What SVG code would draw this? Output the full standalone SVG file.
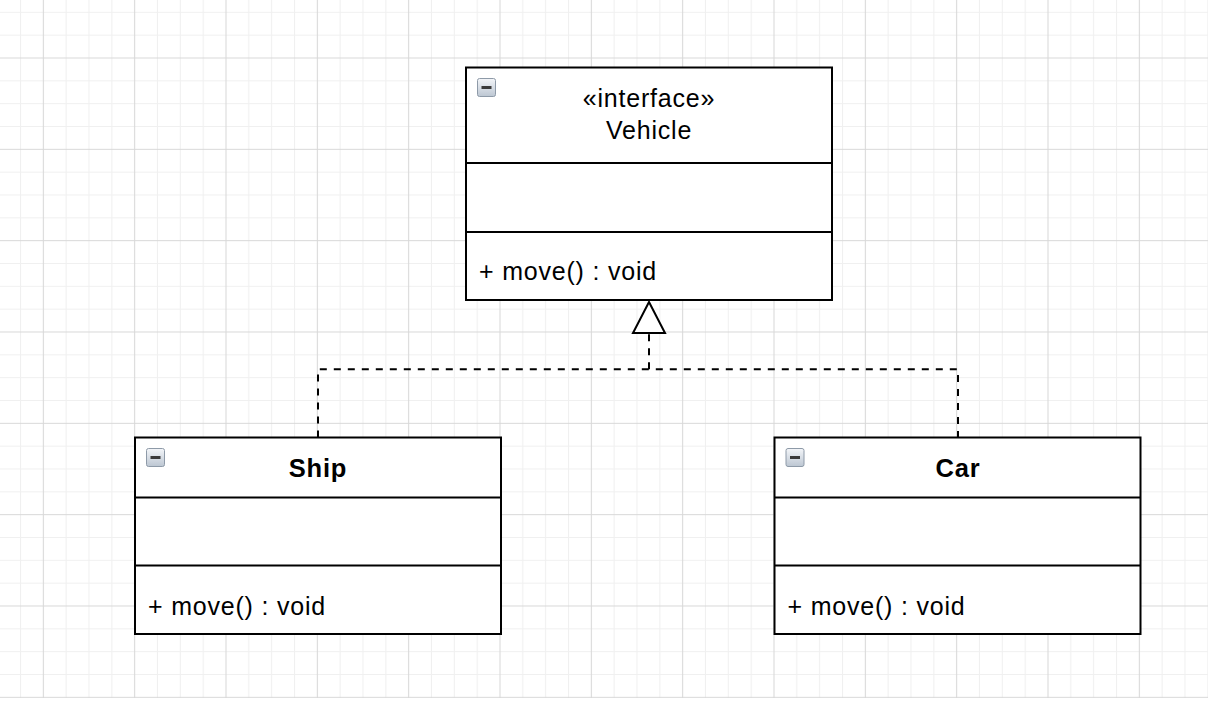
<svg xmlns="http://www.w3.org/2000/svg" width="1208" height="704" viewBox="0 0 1208 704">
<defs>
<style>
.box{fill:#ffffff;stroke:#000000;stroke-width:2}
.div{stroke:#000000;stroke-width:2;fill:none}
.t{font-family:"Liberation Sans",Arial,Helvetica,sans-serif;font-size:25px;fill:#000000;letter-spacing:0.8px}
.b{font-weight:bold;font-size:25.5px}
.c{text-anchor:middle}
.dash{fill:none;stroke:#000000;stroke-width:2;stroke-dasharray:7 7}
.tri{fill:#ffffff;stroke:#000000;stroke-width:2;stroke-linejoin:miter}
.ifr{stroke:#8e9aa8;stroke-width:1;fill:url(#ig)}
.ibar{fill:#3a3a3a}
</style>
<linearGradient id="ig" x1="0" y1="0" x2="0" y2="1">
<stop offset="0" stop-color="#f4f6f9"/>
<stop offset="1" stop-color="#bcc6d2"/>
</linearGradient>
<pattern id="grid" patternUnits="userSpaceOnUse" x="31.92" y="46.58" width="91.333" height="91.333">
<rect width="91.333" height="91.333" fill="#ffffff"/>
<path d="M34.25,0V91.333M57.08,0V91.333M79.92,0V91.333M0,34.25H91.333M0,57.08H91.333M0,79.92H91.333" stroke="#f0f0f0" stroke-width="1" fill="none"/>
<path d="M11.42,0V91.333M0,11.42H91.333" stroke="#d8d8d8" stroke-width="1" fill="none"/>
</pattern>
</defs>
<rect x="0" y="0" width="1208" height="704" fill="#ffffff"/>
<rect x="0" y="0" width="1208" height="698" fill="url(#grid)"/>

<g id="connectors">
<path class="dash" d="M318,437.5 V369.3 H958 V437.5"/>
<path class="dash" d="M649,369.3 V333"/>
<polygon class="tri" points="649,302 633,333 665,333"/>
</g>

<g id="vehicle">
<rect class="box" x="466" y="67.5" width="366" height="232.5"/>
<line class="div" x1="466" y1="163" x2="832" y2="163"/>
<line class="div" x1="466" y1="232" x2="832" y2="232"/>
<rect class="ifr" x="477.5" y="78.5" width="18" height="18" rx="2"/>
<rect class="ibar" x="481.5" y="86" width="10" height="3"/>
<text class="t c" x="649" y="106.5">«interface»</text>
<text class="t c" x="649" y="138.5">Vehicle</text>
<text class="t" x="479" y="279.5">+ move() : void</text>
</g>

<g id="ship">
<rect class="box" x="135" y="437.5" width="366" height="196.5"/>
<line class="div" x1="135" y1="497.5" x2="501" y2="497.5"/>
<line class="div" x1="135" y1="565.5" x2="501" y2="565.5"/>
<rect class="ifr" x="146.5" y="448.5" width="18" height="18" rx="2"/>
<rect class="ibar" x="150.5" y="456" width="10" height="3"/>
<text class="t b c" x="318" y="477">Ship</text>
<text class="t" x="148" y="614.5">+ move() : void</text>
</g>

<g id="car">
<rect class="box" x="774.5" y="437.5" width="366" height="196.5"/>
<line class="div" x1="774.5" y1="497.5" x2="1140.5" y2="497.5"/>
<line class="div" x1="774.5" y1="565.5" x2="1140.5" y2="565.5"/>
<rect class="ifr" x="786" y="448.5" width="18" height="18" rx="2"/>
<rect class="ibar" x="790" y="456" width="10" height="3"/>
<text class="t b c" x="958" y="477">Car</text>
<text class="t" x="787.5" y="614.5">+ move() : void</text>
</g>
</svg>
